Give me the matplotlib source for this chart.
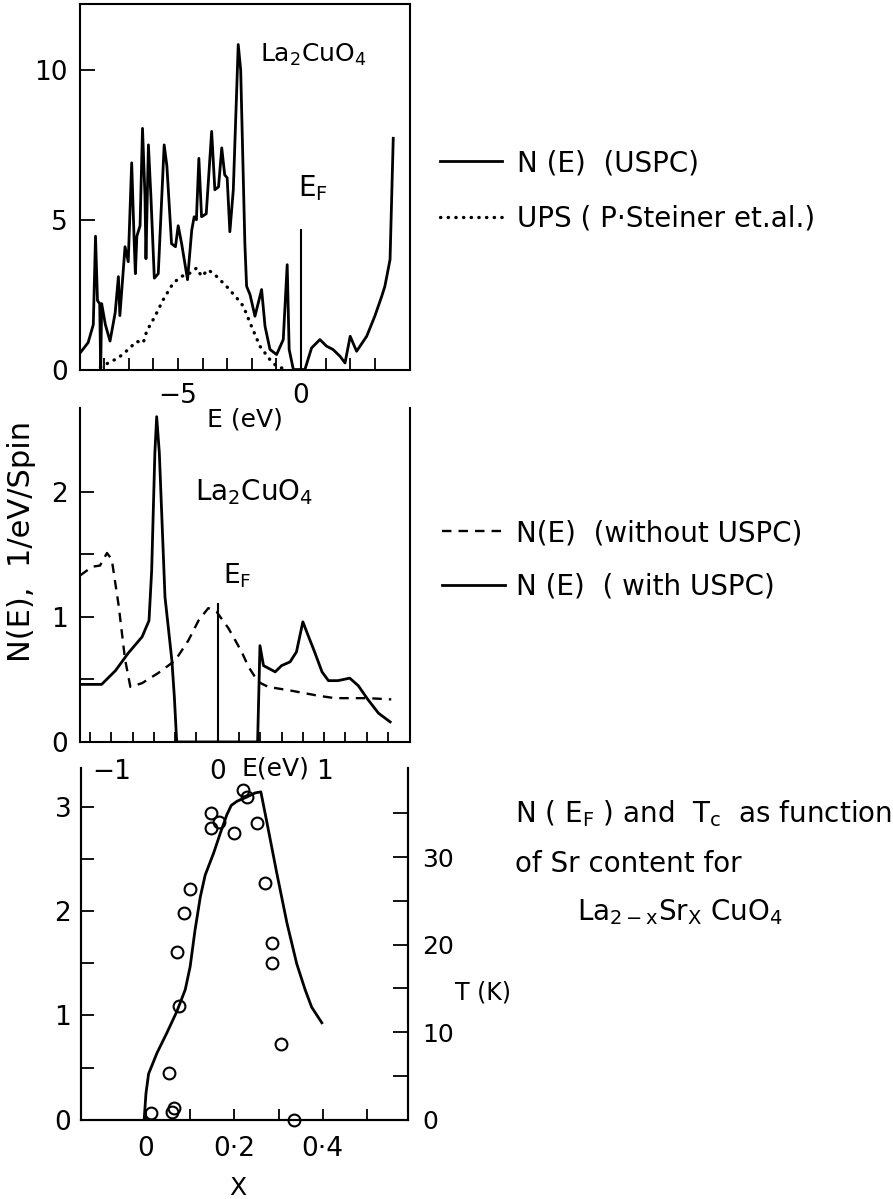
import numpy as np
import matplotlib
matplotlib.use('Agg')
import matplotlib.pyplot as plt

plt.rcParams['font.family'] = ['DejaVu Sans']
plt.rcParams['mathtext.default'] = 'regular'

# ---- panel 1 : N(E) with USPC, La2CuO4, and UPS spectrum
dos_E = [-8.98, -8.65, -8.44, -8.35, -8.27, -8.18, -8.14, -8.10, -7.95, -7.76, -7.55, -7.42, -7.36,
         -7.15, -7.02, -6.88, -6.78, -6.73, -6.67, -6.54, -6.44, -6.34, -6.30, -6.20, -6.10, -5.96,
         -5.80, -5.56, -5.45, -5.26, -5.10, -4.99, -4.85, -4.61, -4.44, -4.34, -4.25, -4.15, -4.04,
         -3.85, -3.63, -3.50, -3.35, -3.22, -3.10, -3.00, -2.89, -2.75, -2.55, -2.45, -2.28, -2.21,
         -2.07, -1.87, -1.60, -1.46, -1.26, -0.99, -0.72, -0.56, -0.48, -0.31, 0.16, 0.43, 0.77,
         1.04, 1.30, 1.59, 1.79, 2.00, 2.26, 2.67, 3.00, 3.28, 3.41, 3.62, 3.75]
dos_N = [0.55, 0.9, 1.5, 4.45, 2.3, 2.2, 0.0, 2.2, 1.5, 0.95, 1.9, 3.1, 1.8,
         4.1, 3.6, 6.9, 4.3, 3.2, 4.45, 4.8, 8.05, 5.8, 3.7, 7.5, 5.8, 3.05,
         3.2, 7.5, 6.8, 4.2, 4.1, 4.8, 4.2, 3.0, 4.65, 5.1, 5.0, 7.05, 5.1,
         5.2, 7.95, 6.0, 6.1, 7.4, 6.5, 6.4, 4.6, 6.0, 10.85, 10.0, 4.2, 2.78,
         2.5, 1.78, 2.67, 1.44, 0.67, 0.5, 1.0, 3.5, 0.67, 0.0, 0.0, 0.72, 1.0,
         0.78, 0.67, 0.44, 0.22, 1.11, 0.61, 1.11, 1.78, 2.44, 2.78, 3.67, 7.72]
ups_E = [-8.15, -7.83, -7.42, -7.02, -6.68, -6.41, -6.27, -5.93, -5.60, -5.19, -4.85, -4.51,
         -4.24, -4.04, -3.77, -3.43, -2.96, -2.55, -2.34, -2.07, -1.67, -1.26, -0.99, -0.60]
ups_N = [0.08, 0.22, 0.39, 0.67, 0.94, 0.89, 1.28, 1.78, 2.33, 2.89, 3.11, 3.22,
         3.39, 3.11, 3.33, 3.11, 2.72, 2.33, 2.11, 1.56, 0.78, 0.33, 0.11, 0.0]
ef1_N = [0.0, 4.67]

# ---- panel 2 : N(E) near E_F with / without USPC
with_E = [-1.293, -1.09, -0.96, -0.84, -0.71, -0.645, -0.62, -0.59, -0.573, -0.548, -0.495,
          -0.43, -0.407, -0.385, 0.375, 0.397, 0.43, 0.475, 0.54, 0.60, 0.68, 0.74, 0.80,
          0.85, 0.91, 0.98, 1.04, 1.13, 1.24, 1.32, 1.41, 1.51, 1.62]
with_N = [0.46, 0.46, 0.57, 0.71, 0.84, 0.97, 1.37, 2.31, 2.6, 2.31, 1.16,
          0.65, 0.36, 0.0, 0.0, 0.77, 0.61, 0.59, 0.56, 0.61, 0.64, 0.72, 0.96,
          0.85, 0.72, 0.56, 0.49, 0.49, 0.51, 0.45, 0.34, 0.23, 0.16]
wo_E = [-1.293, -1.18, -1.105, -1.04, -0.995, -0.93, -0.87, -0.82, -0.71, -0.56, -0.40, -0.276,
        -0.18, -0.088, -0.01, 0.10, 0.16, 0.225, 0.29, 0.38, 0.475, 0.69, 0.94, 1.10, 1.41, 1.63]
wo_N = [1.33, 1.40, 1.41, 1.51, 1.46, 1.09, 0.66, 0.44, 0.47, 0.55, 0.65, 0.81,
        0.97, 1.07, 1.04, 0.91, 0.82, 0.72, 0.60, 0.48, 0.44, 0.41, 0.37, 0.35, 0.35, 0.34]
ef2_N = [0.0, 1.1]

# ---- panel 3 : N(E_F) and Tc vs Sr content x
nef_x = [-0.004, 0.0, 0.006, 0.025, 0.047, 0.07, 0.089, 0.1, 0.111, 0.123, 0.134, 0.153, 0.168,
         0.183, 0.193, 0.206, 0.228, 0.247, 0.260, 0.274, 0.296, 0.319, 0.341, 0.360, 0.375, 0.398]
nef_N = [0.0, 0.25, 0.44, 0.64, 0.83, 1.04, 1.25, 1.47, 1.82, 2.14, 2.35, 2.56, 2.75,
         2.93, 3.02, 3.06, 3.10, 3.14, 3.15, 2.85, 2.37, 1.89, 1.50, 1.25, 1.08, 0.93]
tc_x = [0.011, 0.059, 0.064, 0.053, 0.075, 0.071, 0.086, 0.100, 0.148, 0.148, 0.166, 0.200,
        0.219, 0.228, 0.251, 0.270, 0.285, 0.286, 0.305, 0.334]
tc_K = [0.8, 0.9, 1.3, 5.3, 13.0, 19.2, 23.6, 26.4, 35.0, 33.3, 34.0, 32.8,
        37.7, 36.9, 33.9, 27.1, 20.2, 17.9, 8.6, 0.0]

lw = 2.0
fig = plt.figure(figsize=(8.93, 11.99), dpi=100)

# panel 1
ax1 = fig.add_axes([0.0896, 0.6918, 0.3695, 0.3048])
l1, = ax1.plot(dos_E, dos_N, color='black', lw=lw)
l2, = ax1.plot(ups_E, ups_N, color='black', lw=2.4, linestyle=(0, (0.1, 2.2)),
               dash_capstyle='round')
ax1.plot([0, 0], ef1_N, color='black', lw=1.5)
ax1.set_xlim(-8.98, 4.43)
ax1.set_ylim(0, 12.2)
ax1.set_xticks([-5, 0])
ax1.set_xticks(np.arange(-8, 4), minor=True)
ax1.set_yticks([0, 5, 10])
ax1.tick_params(which='both', direction='in', width=1.3, labelsize=19)
ax1.tick_params(axis='x', which='both', length=8.5, pad=10)
ax1.tick_params(axis='y', length=11, pad=9)
ax1.set_xlabel('E (eV)', fontsize=18)
ax1.xaxis.set_label_coords(0.5, -0.105)
ax1.text(0.545, 0.842, r'La$_2$CuO$_4$', transform=ax1.transAxes, fontsize=18, va='baseline')
ax1.text(0.661, 0.473, r'E$_F$', transform=ax1.transAxes, fontsize=20, va='baseline')
ax1.legend([l1, l2], ['N (E)  (USPC)', 'UPS ( P·Steiner et.al.)'], loc='upper left',
           bbox_to_anchor=(0.4927, 0.8757), bbox_transform=fig.transFigure, frameon=False,
           fontsize=20, handlelength=2.23, handletextpad=0.54, labelspacing=1.0,
           borderpad=0, borderaxespad=0)

# panel 2
ax2 = fig.add_axes([0.0896, 0.3812, 0.3695, 0.2786])
ax2.patch.set_visible(False)
l3, = ax2.plot(wo_E, wo_N, color='black', lw=1.7, linestyle=(0, (4, 3)))
l4, = ax2.plot(with_E, with_N, color='black', lw=lw)
ax2.plot([0, 0], ef2_N, color='black', lw=1.5)
ax2.set_xlim(-1.293, 1.806)
ax2.set_ylim(0, 2.67)
ax2.spines['top'].set_visible(False)
ax2.set_xticks([-1, 0, 1])
ax2.set_xticks(np.arange(-1.2, 1.7, 0.2), minor=True)
ax2.set_yticks([0, 1, 2])
ax2.set_yticks([0.5, 1.5], minor=True)
ax2.tick_params(which='both', direction='in', width=1.3, labelsize=19)
ax2.tick_params(axis='x', which='both', length=7, pad=12)
ax2.tick_params(axis='y', which='both', length=10, pad=9)
ax2.set_xlabel('E(eV)', fontsize=18)
ax2.xaxis.set_label_coords(0.591, -0.045)
ax2.text(0.348, 0.7246, r'La$_2$CuO$_4$', transform=ax2.transAxes, fontsize=20, va='baseline')
ax2.text(0.433, 0.475, r'E$_F$', transform=ax2.transAxes, fontsize=19, va='baseline')
ax2.legend([l3, l4], ['N(E)  (without USPC)', 'N (E)  ( with USPC)'], loc='upper left',
           bbox_to_anchor=(0.495, 0.5671), bbox_transform=fig.transFigure, frameon=False,
           fontsize=20, handlelength=2.27, handletextpad=0.4, labelspacing=0.93,
           borderpad=0, borderaxespad=0)

fig.text(0.0246, 1 - 541 / 1199, 'N(E),  1/eV/Spin', rotation=90, ha='center', va='center',
         fontsize=22)

# panel 3
ax3 = fig.add_axes([0.0907, 0.0663, 0.3662, 0.2932])
ax3.patch.set_visible(False)
ax3.plot(nef_x, nef_N, color='black', lw=lw)
ax3.set_xlim(-0.147, 0.593)
ax3.set_ylim(0, 3.38)
ax3.spines['top'].set_visible(False)
ax3.set_xticks([0, 0.2, 0.4])
ax3.set_xticklabels(['0', '0·2', '0·4'])
ax3.set_xticks([0.1, 0.3, 0.5], minor=True)
ax3.set_yticks([0, 1, 2, 3])
ax3.set_yticks([0.5, 1.5, 2.5], minor=True)
ax3.tick_params(which='both', direction='in', width=1.3, labelsize=19)
ax3.tick_params(axis='x', which='both', length=8, pad=12)
ax3.tick_params(axis='y', which='both', length=9.5, pad=7)
ax3.set_xlabel('X', fontsize=18)
ax3.xaxis.set_label_coords(0.48, -0.162)

ax3r = ax3.twinx()
ax3r.patch.set_visible(False)
ax3r.plot(tc_x, tc_K, linestyle='none', marker='o', markersize=8.5, markerfacecolor='none',
          markeredgecolor='black', markeredgewidth=1.5, clip_on=False)
ax3r.set_ylim(0, 40.2)
ax3r.spines['top'].set_visible(False)
ax3r.set_yticks([0, 10, 20, 30])
ax3r.set_yticks([5, 15, 25, 35], minor=True)
ax3r.tick_params(which='both', direction='in', width=1.3, length=11, pad=10, labelsize=18)
ax3r.text(1.144, 0.36, 'T (K)', transform=ax3r.transAxes, fontsize=17, va='center')

for ax in (ax1, ax2, ax3, ax3r):
    for s in ax.spines.values():
        s.set_linewidth(1.5)

fig.text(515 / 893, 1 - 822 / 1199, r'N ( E$_F$ ) and  T$_c$  as function', fontsize=20,
         va='baseline')
fig.text(515 / 893, 1 - 872 / 1199, 'of Sr content for', fontsize=20, va='baseline')
fig.text(577 / 893, 1 - 920 / 1199, r'La$_{2-x}$Sr$_X$ CuO$_4$', fontsize=20, va='baseline')

fig.savefig('out.png', dpi=100)
